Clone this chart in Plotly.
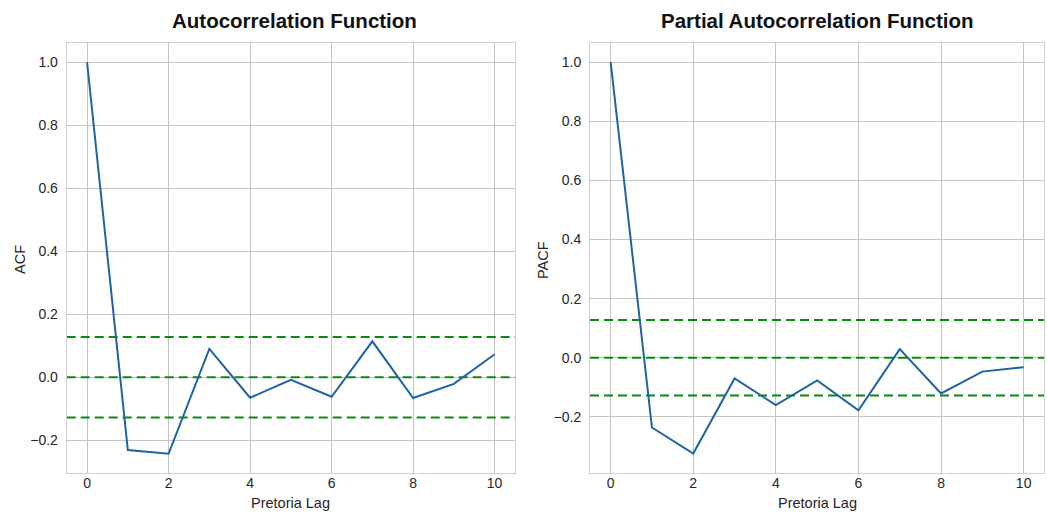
import plotly.graph_objects as go

lags = list(range(11))
acf_vals = [1.0, -0.231, -0.243, 0.090, -0.065, -0.008, -0.062, 0.114, -0.066, -0.021, 0.073]
pacf_vals = [1.0, -0.236, -0.324, -0.070, -0.160, -0.077, -0.178, 0.029, -0.121, -0.047, -0.032]
conf_bound = 0.128
titles = ["Autocorrelation Function", "Partial Autocorrelation Function"]
ylabels = ["ACF", "PACF"]
xlabel = "Pretoria Lag"

W, H = 1047, 515
FONT = "Liberation Sans, Arial, sans-serif"
LINE = "#1f63a3"
GREEN = "#0a8a0a"
GRID = "#c4c4c4"
TXT = "#262626"

fig = go.Figure()

panels = [
    dict(vals=acf_vals, x="x", y="y", xd=[66.7 / W, 515 / W], yr=[-0.305, 1.062]),
    dict(vals=pacf_vals, x="x2", y="y2", xd=[590 / W, 1044.3 / W], yr=[-0.391, 1.066]),
]
yd = [1 - 473.3 / H, 1 - 42.7 / H]

for i, p in enumerate(panels):
    for lvl in [conf_bound, 0.0, -conf_bound]:
        fig.add_trace(go.Scatter(
            x=[-0.5, 10.5], y=[lvl, lvl], mode="lines",
            line=dict(color=GREEN, width=2, dash="9px,5px"),
            xaxis=p["x"], yaxis=p["y"], showlegend=False, hoverinfo="skip"))
    fig.add_trace(go.Scatter(
        x=lags, y=p["vals"], mode="lines",
        line=dict(color=LINE, width=2),
        xaxis=p["x"], yaxis=p["y"], showlegend=False))

axis_common = dict(showgrid=True, gridcolor=GRID, gridwidth=1, zeroline=False,
                   showline=True, linecolor="#d0d0d0", linewidth=1, mirror=True,
                   ticks="", tickfont=dict(family=FONT, size=14, color=TXT))

fig.update_layout(
    width=W, height=H,
    margin=dict(l=0, r=0, t=0, b=0),
    paper_bgcolor="white", plot_bgcolor="white",
    font=dict(family=FONT, color=TXT),
    xaxis=dict(domain=panels[0]["xd"], range=[-0.5, 10.5], tickvals=[0, 2, 4, 6, 8, 10],
               anchor="y", ticklabelstandoff=-3, **axis_common),
    yaxis=dict(domain=yd, range=panels[0]["yr"], tickvals=[-0.2, 0, 0.2, 0.4, 0.6, 0.8, 1.0],
               tickformat=".1f", anchor="x", ticklabelstandoff=5, **axis_common),
    xaxis2=dict(domain=panels[1]["xd"], range=[-0.5, 10.5], tickvals=[0, 2, 4, 6, 8, 10],
                anchor="y2", ticklabelstandoff=-3, **axis_common),
    yaxis2=dict(domain=yd, range=panels[1]["yr"], tickvals=[-0.2, 0, 0.2, 0.4, 0.6, 0.8, 1.0],
                tickformat=".1f", anchor="x2", ticklabelstandoff=5, **axis_common),
)

annotations = []
centers = [(66.7 + 515) / 2 / W, (590 + 1044.3) / 2 / W]
title_centers = [294 / W, 817 / W]
ylab_x = [20 / W, 543 / W]
for i in range(2):
    annotations.append(dict(text="<b>" + titles[i] + "</b>", x=title_centers[i], y=1 - 20.5 / H,
                            xref="paper", yref="paper", showarrow=False,
                            xanchor="center", yanchor="middle",
                            font=dict(family=FONT, size=20.5, color="#111111")))
    annotations.append(dict(text=xlabel, x=centers[i], y=1 - 503 / H,
                            xref="paper", yref="paper", showarrow=False,
                            xanchor="center", yanchor="middle",
                            font=dict(family=FONT, size=14.5, color=TXT)))
    annotations.append(dict(text=ylabels[i], x=ylab_x[i], y=1 - 260 / H,
                            xref="paper", yref="paper", showarrow=False, textangle=-90,
                            xanchor="center", yanchor="middle",
                            font=dict(family=FONT, size=14.5, color=TXT)))
fig.update_layout(annotations=annotations)

fig.write_html("out.html", config={"displayModeBar": False},
               post_script="document.body.style.margin='0';document.body.style.overflow='hidden';")
